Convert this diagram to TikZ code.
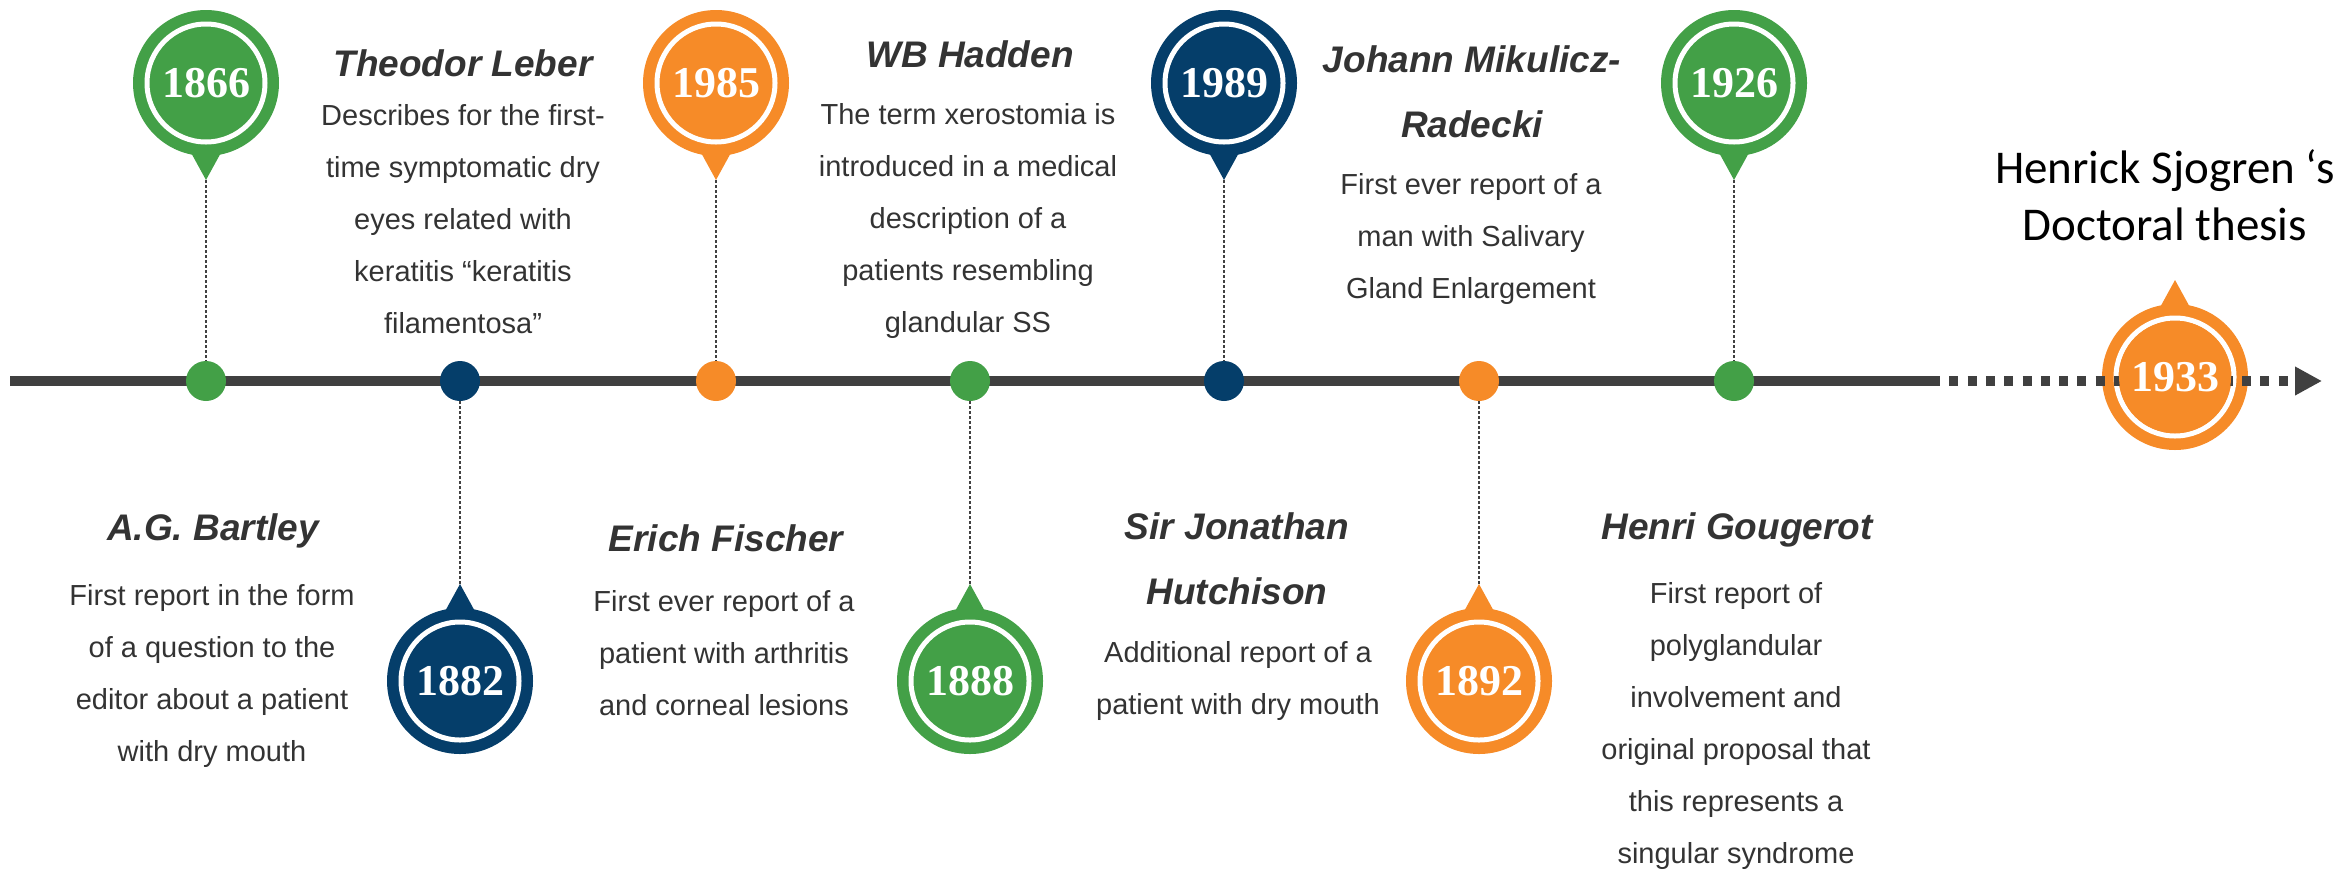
\documentclass[tikz,border=0pt]{standalone}
\usepackage{fontspec}
\setmainfont{Liberation Sans}
\newfontfamily\yearfont{Liberation Serif}
\newfontfamily\thesisfont{Carlito}
\usetikzlibrary{arrows.meta}

\definecolor{tlgreen}{HTML}{43A047}
\definecolor{tlorange}{HTML}{F68B28}
\definecolor{tlnavy}{HTML}{053E6A}
\definecolor{tlline}{HTML}{404040}
\definecolor{tltext}{HTML}{333333}

\tikzset{
  dotnode/.style={circle, minimum size=40pt, inner sep=0pt},
  pinball/.style={circle, minimum size=146pt, inner sep=0pt, text=white,
    font=\yearfont\bfseries\fontsize{44}{50}\selectfont},
  pincore/.style={circle, minimum size=112pt, inner sep=0pt, text=white,
    font=\yearfont\bfseries\fontsize{44}{50}\selectfont},
  pinring/.style={draw=white, line width=5pt},
  stem/.style={draw=tlline, line width=1.3pt, dash pattern=on 3pt off 2pt},
  axisline/.style={draw=tlline, line width=10pt},
  nametext/.style={anchor=north, align=center, text=tltext, inner sep=0pt,
    font=\fontsize{37}{65}\selectfont\bfseries\itshape},
  bodytext/.style={anchor=north, align=center, text=tltext, inner sep=0pt,
    font=\fontsize{29}{52}\selectfont},
}

% pin marker: name, x, y, colour, year, direction of the tip (1 down, -1 up)
\newcommand{\timelinepin}[6]{%
  \fill[#4] ({#2-17},{#3+(#6)*66}) -- ({#2},{#3+(#6)*97}) -- ({#2+17},{#3+(#6)*66}) -- cycle;
  \node[pinball, fill=#4] (#1) at (#2,#3) {#5};
  \draw[pinring] (#1.center) circle (59pt);
  \coordinate (#1t) at ({#2},{#3+(#6)*97});
}

\begin{document}
\begin{tikzpicture}[x=1pt,y=-1pt]
  \useasboundingbox (0,0) rectangle (2344,879);

  % axis, solid part
  \coordinate (axstart) at (10,381);
  \coordinate (axsolid) at (1931,381);
  \coordinate (axend) at (2322,381);
  \draw[axisline] (axstart) -- (axsolid);

  % pins
  \timelinepin{p1}{206}{83}{tlgreen}{1866}{1}
  \timelinepin{p3}{716}{83}{tlorange}{1985}{1}
  \timelinepin{p5}{1224}{83}{tlnavy}{1989}{1}
  \timelinepin{p7}{1734}{83}{tlgreen}{1926}{1}
  \timelinepin{p2}{460}{681}{tlnavy}{1882}{-1}
  \timelinepin{p4}{970}{681}{tlgreen}{1888}{-1}
  \timelinepin{p6}{1479}{681}{tlorange}{1892}{-1}

  % dots on the axis
  \node[dotnode, fill=tlgreen]  (d1) at (206,381) {};
  \node[dotnode, fill=tlnavy]   (d2) at (460,381) {};
  \node[dotnode, fill=tlorange] (d3) at (716,381) {};
  \node[dotnode, fill=tlgreen]  (d4) at (970,381) {};
  \node[dotnode, fill=tlnavy]   (d5) at (1224,381) {};
  \node[dotnode, fill=tlorange] (d6) at (1479,381) {};
  \node[dotnode, fill=tlgreen]  (d7) at (1734,381) {};

  % stems
  \foreach \i in {1,...,7} \draw[stem] (p\i t) -- (d\i);

  % final pin: the dotted axis runs over its rim, under its core
  \timelinepin{p8}{2175}{377}{tlorange}{}{-1}
  \draw[axisline, dash pattern=on 9pt off 9.3pt,
        -{Triangle[length=27pt,width=27pt]}] (axsolid) -- (axend);
  \node[pincore, fill=tlorange] (p8c) at (p8) {1933};

  % texts above the axis
  \node[nametext] (n2) at (463,49) {Theodor Leber};
  \node[bodytext] (b2) at (463,104) {Describes for the first-\\time symptomatic dry\\eyes related with\\keratitis “keratitis\\filamentosa”};
  \node[nametext] (n4) at (970,40) {WB Hadden};
  \node[bodytext] (b4) at (968,103) {The term xerostomia is\\introduced in a medical\\description of a\\patients resembling\\glandular SS};
  \node[nametext] (n6) at (1472,45) {Johann Mikulicz-\\Radecki};
  \node[bodytext] (b6) at (1471,173) {First ever report of a\\man with Salivary\\Gland Enlargement};
  \node[anchor=north, align=center, inner sep=0pt, text=black,
        font=\thesisfont\fontsize{47}{57}\selectfont] (n8) at (2165,149) {Henrick Sjogren ‘s\\Doctoral thesis};

  % texts below the axis
  \node[nametext] (n1) at (213,513) {A.G. Bartley};
  \node[bodytext] (b1) at (212,584) {First report in the form\\of a question to the\\editor about a patient\\with dry mouth};
  \node[nametext] (n3) at (726,524) {Erich Fischer};
  \node[bodytext] (b3) at (724,590) {First ever report of a\\patient with arthritis\\and corneal lesions};
  \node[nametext] (n5) at (1237,512) {Sir Jonathan\\Hutchison};
  \node[bodytext] (b5) at (1238,641) {Additional report of a\\patient with dry mouth};
  \node[nametext] (n7) at (1737,512) {Henri Gougerot};
  \node[bodytext] (b7) at (1736,582) {First report of\\polyglandular\\involvement and\\original proposal that\\this represents a\\singular syndrome};
\end{tikzpicture}
\end{document}
